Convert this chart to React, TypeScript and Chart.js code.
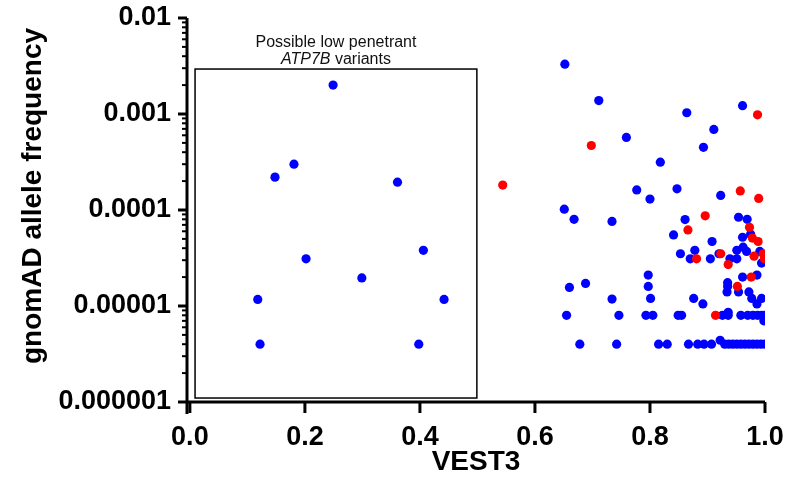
import React, { useEffect, useRef } from 'react';
import { Chart, registerables } from 'chart.js';

Chart.register(...registerables);

// ---- Data (VEST3 score vs gnomAD allele frequency) ----
const blueVest = [
  0.249, 0.181, 0.148, 0.361, 0.406, 0.202, 0.299, 0.118, 0.442, 0.122, 0.398,
  0.652, 0.711, 0.759, 0.777, 0.651, 0.668, 0.734, 0.688, 0.660, 0.734, 0.655, 0.746, 0.678, 0.742,
  0.864, 0.961, 0.911, 0.893, 0.818, 0.800, 0.847, 0.923,
  0.861, 0.841, 0.954, 0.969, 0.975, 0.961, 0.908, 0.878, 0.853, 0.870, 0.905, 0.920, 0.939, 0.951, 0.951, 0.962, 0.968, 0.991, 0.994,
  0.986, 0.961, 0.797, 0.797, 0.801, 0.876, 0.892,
  0.935, 0.935, 0.934, 0.954, 0.972, 0.977, 0.994, 0.986,
  0.793, 0.805, 0.849, 0.855, 0.926, 0.936, 0.958, 0.970, 0.979, 0.987, 0.994, 0.999, 0.936, 0.998,
  0.815, 0.830, 0.867, 0.883, 0.894, 0.907, 0.930, 0.937, 0.944, 0.951, 0.958, 0.965, 0.972, 0.979, 0.986, 0.993, 1.0, 0.922,
];
const blueAf = [
  2.0e-3, 3.0e-4, 2.2e-4, 1.95e-4, 3.8e-5, 3.1e-5, 1.96e-5, 1.17e-5, 1.17e-5, 4e-6, 4e-6,
  3.3e-3, 1.38e-3, 5.7e-4, 1.62e-4, 1.02e-4, 8.0e-5, 7.6e-5, 1.72e-5, 1.56e-5, 1.18e-5, 8e-6, 8e-6, 4e-6, 4e-6,
  1.03e-3, 1.22e-3, 6.9e-4, 4.5e-4, 3.15e-4, 1.3e-4, 1.66e-4, 1.42e-4,
  7.95e-5, 5.5e-5, 8.4e-5, 8.0e-5, 5.6e-5, 5.2e-5, 4.7e-5, 3.8e-5, 3.5e-5, 3.1e-5, 3.1e-5, 3.5e-5, 3.1e-5, 3.1e-5, 3.8e-5, 4.1e-5, 3.7e-5, 3.7e-5, 2.8e-5,
  2.1e-5, 2.0e-5, 2.1e-5, 1.6e-5, 1.2e-5, 1.2e-5, 1.05e-5,
  1.75e-5, 1.6e-5, 1.4e-5, 1.4e-5, 1.4e-5, 1.2e-5, 1.2e-5, 1.05e-5,
  8e-6, 8e-6, 8e-6, 8e-6, 8e-6, 8e-6, 8e-6, 8e-6, 8e-6, 8e-6, 8e-6, 8e-6, 8.6e-6, 7e-6,
  4e-6, 4e-6, 4e-6, 4e-6, 4e-6, 4e-6, 4e-6, 4e-6, 4e-6, 4e-6, 4e-6, 4e-6, 4e-6, 4e-6, 4e-6, 4e-6, 4e-6, 4.4e-6,
];
const redVest = [
  0.544, 0.698, 0.987, 0.957, 0.989, 0.896, 0.866, 0.973, 0.978, 0.988,
  0.881, 0.923, 0.981, 0.997, 0.999, 0.936, 0.976, 0.952, 0.914,
];
const redAf = [
  1.82e-4, 4.7e-4, 9.8e-4, 1.58e-4, 1.32e-4, 8.7e-5, 6.2e-5, 6.6e-5, 5.1e-5, 4.7e-5,
  3.1e-5, 3.5e-5, 3.3e-5, 3.5e-5, 3.1e-5, 2.7e-5, 2.0e-5, 1.6e-5, 8e-6,
];

const xTickValues = [0, 0.2, 0.4, 0.6, 0.8, 1.0];
const yTickValues = [1e-6, 1e-5, 1e-4, 1e-3, 1e-2];
const yTickLabels = ['0.000001', '0.00001', '0.0001', '0.001', '0.01'];
const xTitle = 'VEST3';
const yTitle = 'gnomAD allele frequency';
const boxLine1 = 'Possible low penetrant';
const boxGene = 'ATP7B';
const boxSuffix = ' variants';
const boxVestRange = [0.009, 0.499];
const boxAfRange = [1.1e-6, 2.94e-3];

const FONT = '"Liberation Sans", Arial, Helvetica, sans-serif';

const overlayPlugin = {
  id: 'overlay',
  afterDraw(chart: any) {
    const { ctx, chartArea } = chart;
    const xs = chart.scales.x;
    const ys = chart.scales.y;
    const left = chartArea.left;
    const bottom = chartArea.bottom;
    ctx.save();
    ctx.strokeStyle = '#000';
    ctx.lineCap = 'butt';

    // y axis line (extends slightly below x axis)
    ctx.lineWidth = 3;
    ctx.beginPath();
    ctx.moveTo(left, chartArea.top);
    ctx.lineTo(left, bottom + 12);
    ctx.stroke();
    // x axis line
    ctx.beginPath();
    ctx.moveTo(left, bottom);
    ctx.lineTo(chartArea.right, bottom);
    ctx.stroke();

    // x ticks
    xTickValues.forEach((v) => {
      const px = xs.getPixelForValue(v);
      ctx.beginPath();
      ctx.moveTo(px, bottom);
      ctx.lineTo(px, bottom + 11);
      ctx.stroke();
    });

    // y ticks (major + minor)
    for (let e = -6; e <= -2; e++) {
      for (let m = 1; m <= 9; m++) {
        const v = m * Math.pow(10, e);
        if (v > 1e-2 * 1.0001) continue;
        const py = ys.getPixelForValue(v);
        ctx.lineWidth = m === 1 ? 3 : 2;
        ctx.beginPath();
        ctx.moveTo(left - (m === 1 ? 9 : 5), py);
        ctx.lineTo(left, py);
        ctx.stroke();
      }
    }

    // annotation box
    const bx0 = xs.getPixelForValue(boxVestRange[0]);
    const bx1 = xs.getPixelForValue(boxVestRange[1]);
    const by0 = ys.getPixelForValue(boxAfRange[1]);
    const by1 = ys.getPixelForValue(boxAfRange[0]);
    ctx.lineWidth = 1.5;
    ctx.strokeRect(bx0, by0, bx1 - bx0, by1 - by0);

    const cx = (bx0 + bx1) / 2;
    ctx.fillStyle = '#111';
    ctx.textBaseline = 'middle';
    ctx.textAlign = 'center';
    ctx.font = `16px ${FONT}`;
    ctx.fillText(boxLine1, cx, by0 - 26);
    const italicFont = `italic 16px ${FONT}`;
    const normalFont = `16px ${FONT}`;
    ctx.font = italicFont;
    const w1 = ctx.measureText(boxGene).width;
    ctx.font = normalFont;
    const w2 = ctx.measureText(boxSuffix).width;
    const sx = cx - (w1 + w2) / 2;
    ctx.textAlign = 'left';
    ctx.font = italicFont;
    ctx.fillText(boxGene, sx, by0 - 9);
    ctx.font = normalFont;
    ctx.fillText(boxSuffix, sx + w1, by0 - 9);

    // axis titles
    ctx.fillStyle = '#000';
    ctx.font = `bold 28px ${FONT}`;
    ctx.textAlign = 'center';
    ctx.textBaseline = 'middle';
    ctx.fillText(xTitle, (chartArea.left + chartArea.right) / 2, 462);
    ctx.save();
    ctx.translate(33, 196);
    ctx.rotate(-Math.PI / 2);
    ctx.fillText(yTitle, 0, 0);
    ctx.restore();

    ctx.restore();
  },
};

export default function App() {
  const canvasRef = useRef<HTMLCanvasElement | null>(null);

  useEffect(() => {
    const canvas = canvasRef.current;
    if (!canvas) return;
    const chart = new Chart(canvas, {
      type: 'scatter',
      data: {
        datasets: [
          {
            label: 'red',
            data: redVest.map((v, i) => ({ x: v, y: redAf[i] })),
            backgroundColor: '#ff0000',
            borderWidth: 0,
            pointRadius: 4.6,
            order: 0,
          },
          {
            label: 'blue',
            data: blueVest.map((v, i) => ({ x: v, y: blueAf[i] })),
            backgroundColor: '#0000ff',
            borderWidth: 0,
            pointRadius: 4.6,
            order: 1,
          },
        ],
      },
      options: {
        responsive: false,
        animation: false,
        devicePixelRatio: 1,
        layout: { padding: { left: 0, right: 20, top: 18, bottom: 0 } },
        plugins: {
          legend: { display: false },
          tooltip: { enabled: false },
        },
        scales: {
          x: {
            type: 'linear',
            min: -0.005,
            max: 1.0,
            grid: { display: false, drawTicks: false },
            border: { display: false },
            afterBuildTicks: (scale: any) => {
              scale.ticks = xTickValues.map((v) => ({ value: v }));
            },
            afterFit: (scale: any) => {
              scale.height = 97;
              scale.paddingLeft = 0;
              scale.paddingRight = 0;
            },
            ticks: {
              autoSkip: false,
              maxRotation: 0,
              padding: 19,
              color: '#000',
              font: { family: FONT, size: 27, weight: 'bold' },
              callback: (v: any) => Number(v).toFixed(1),
            },
          },
          y: {
            type: 'logarithmic',
            min: 1e-6,
            max: 1e-2,
            grid: { display: false, drawTicks: false },
            border: { display: false },
            afterBuildTicks: (scale: any) => {
              scale.ticks = yTickValues.map((v) => ({ value: v }));
            },
            afterFit: (scale: any) => {
              scale.width = 187;
              scale.paddingTop = 0;
              scale.paddingBottom = 0;
            },
            ticks: {
              autoSkip: false,
              padding: 16,
              color: '#000',
              font: { family: FONT, size: 27, weight: 'bold' },
              callback: (v: any) => {
                const idx = yTickValues.findIndex((t) => Math.abs(Math.log10(t) - Math.log10(Number(v))) < 1e-6);
                return idx >= 0 ? yTickLabels[idx] : '';
              },
            },
          },
        },
      },
      plugins: [overlayPlugin],
    } as any);
    return () => chart.destroy();
  }, []);

  return (
    <div style={{ position: 'absolute', left: 0, top: 0, width: 785, height: 499, background: '#fff' }}>
      <canvas ref={canvasRef} width={785} height={499} style={{ display: 'block' }} />
    </div>
  );
}
